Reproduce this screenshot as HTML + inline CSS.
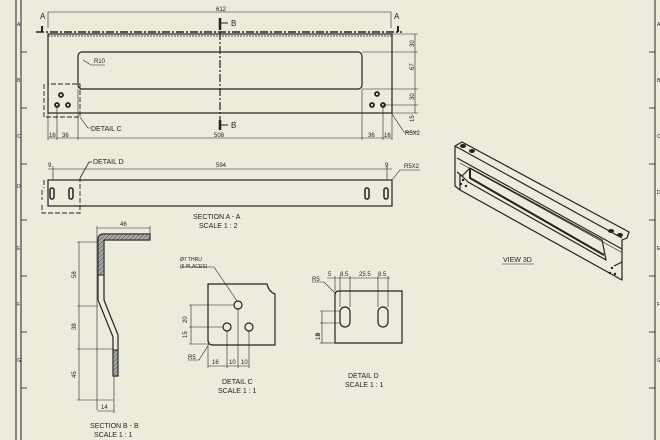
<!DOCTYPE html>
<html><head><style>
html,body{margin:0;padding:0;background:#ecebdc;}
svg{display:block;}
text{font-family:"Liberation Sans",sans-serif;fill:#222;}
</style></head><body>
<svg width="660" height="440" viewBox="0 0 660 440" xmlns="http://www.w3.org/2000/svg">
<defs>
<pattern id="h" width="3" height="3" patternUnits="userSpaceOnUse" patternTransform="rotate(45)"><rect width="3" height="3" fill="#aaa"/><line x1="0" y1="0" x2="0" y2="3" stroke="#444" stroke-width="1"/></pattern>
</defs>
<rect width="660" height="440" fill="#ecebdc"/>
<g stroke="#222" fill="none" stroke-width="1">
<line x1="16" y1="0" x2="16" y2="440"/>
<line x1="21" y1="0" x2="21" y2="440"/>
<line x1="655" y1="0" x2="655" y2="440"/>
<g stroke-width="0.8">
<line x1="21" y1="52" x2="27" y2="52"/><line x1="21" y1="108" x2="27" y2="108"/><line x1="21" y1="164" x2="27" y2="164"/>
<line x1="21" y1="220" x2="27" y2="220"/><line x1="21" y1="276" x2="27" y2="276"/><line x1="21" y1="332" x2="27" y2="332"/><line x1="21" y1="388" x2="27" y2="388"/>
<line x1="649" y1="52" x2="655" y2="52"/><line x1="649" y1="108" x2="655" y2="108"/><line x1="649" y1="164" x2="655" y2="164"/>
<line x1="649" y1="220" x2="655" y2="220"/><line x1="649" y1="276" x2="655" y2="276"/><line x1="649" y1="332" x2="655" y2="332"/><line x1="649" y1="388" x2="655" y2="388"/>
</g>
<line x1="36" y1="32" x2="402" y2="32" stroke-width="1.5" stroke-dasharray="8,2,2,2"/>
<rect x="48" y="34" width="344" height="79" stroke-width="1.2"/>
<line x1="48" y1="36" x2="392" y2="36" stroke-dasharray="2,1" stroke-width="0.8"/>
<rect x="78" y="52" width="284" height="37" rx="4" stroke-width="1.2"/>
<line x1="220" y1="18" x2="220" y2="130" stroke-width="1.2" stroke-dasharray="8,2,2,2"/>
<line x1="220" y1="18" x2="220" y2="30" stroke-width="2.5"/><line x1="220" y1="120" x2="220" y2="130" stroke-width="2.5"/>
<line x1="220" y1="23" x2="228" y2="23"/><line x1="220" y1="125" x2="228" y2="125"/>
<line x1="42" y1="32" x2="42" y2="26" stroke-width="2"/><line x1="398" y1="32" x2="398" y2="26" stroke-width="2"/>
<path d="M48 28V12H391V28" stroke-width="0.6"/>
<g stroke-width="1.8">
<circle cx="61" cy="95" r="2"/><circle cx="57" cy="105" r="2"/><circle cx="68" cy="105" r="2"/>
<circle cx="377" cy="94" r="2"/><circle cx="372" cy="105" r="2"/><circle cx="383" cy="105" r="2"/>
</g>
<path d="M44 84V117H80V84H48" stroke-dasharray="5,2" stroke-width="0.9"/>
<path d="M80 117L88 128H91" stroke-width="0.6"/>
<path d="M83 60L91 65H105" stroke-width="0.6"/>
<g stroke-width="0.6">
<line x1="48" y1="138" x2="392" y2="138"/>
<line x1="48" y1="113" x2="48" y2="140"/><line x1="57" y1="105" x2="57" y2="140"/><line x1="78" y1="89" x2="78" y2="140"/>
<line x1="362" y1="89" x2="362" y2="140"/><line x1="383" y1="105" x2="383" y2="140"/><line x1="392" y1="113" x2="392" y2="140"/>
<line x1="415" y1="34" x2="415" y2="113"/>
<line x1="392" y1="34" x2="418" y2="34"/><line x1="362" y1="52" x2="418" y2="52"/><line x1="362" y1="89" x2="418" y2="89"/><line x1="383" y1="105" x2="418" y2="105"/><line x1="392" y1="113" x2="418" y2="113"/>
<path d="M392 114L404 132H418"/>
</g>
<rect x="48" y="180" width="344" height="26" stroke-width="1.2"/>
<g stroke-width="1.5">
<rect x="50" y="188" width="4" height="11" rx="2"/><rect x="69" y="188" width="4" height="11" rx="2"/>
<rect x="365" y="188" width="4" height="11" rx="2"/><rect x="384" y="188" width="4" height="11" rx="2"/>
</g>
<path d="M44 180V188M42 190V200M42 205V213H80V178" stroke-dasharray="5,2" stroke-width="0.9"/>
<path d="M80 178L89 162H92" stroke-width="0.8"/>
<g stroke-width="0.6">
<line x1="48" y1="169" x2="392" y2="169"/>
<line x1="53" y1="166" x2="53" y2="180"/><line x1="387" y1="166" x2="387" y2="180"/>
<path d="M392 180L400 170H420"/>
</g>
<path d="M98 240Q98 234 104 234H150V240H104V300L118 335V376H113V337L98 300Z" stroke-width="1.2"/>
<path d="M98 240Q98 234 104 234H150V240H104V275H98Z" fill="url(#h)" stroke-width="1"/>
<rect x="113" y="350" width="5" height="26" fill="url(#h)"/>
<g stroke-width="0.6">
<line x1="97" y1="228" x2="150" y2="228"/><line x1="97" y1="226" x2="97" y2="410"/><line x1="150" y1="226" x2="150" y2="236"/>
<line x1="79" y1="242" x2="79" y2="400"/>
<line x1="77" y1="242" x2="98" y2="242"/><line x1="77" y1="306" x2="98" y2="306"/><line x1="77" y1="349" x2="113" y2="349"/><line x1="77" y1="400" x2="113" y2="400"/>
<line x1="97" y1="411" x2="114" y2="411"/><line x1="114" y1="376" x2="114" y2="413"/>
</g>
<path d="M208 284H267Q269 292 275 294V345H213Q208 345 208 340Z" stroke-width="1.2"/>
<circle cx="238" cy="305" r="4" stroke-width="1.2"/><circle cx="227" cy="327" r="4" stroke-width="1.2"/><circle cx="249" cy="327" r="4" stroke-width="1.2"/>
<g stroke-width="0.6">
<path d="M180 267H214L237 301"/>
<line x1="189" y1="305" x2="234" y2="305"/><line x1="189" y1="327" x2="223" y2="327"/><line x1="189" y1="344" x2="208" y2="344"/>
<line x1="191" y1="305" x2="191" y2="344"/>
<line x1="208" y1="345" x2="208" y2="368"/><line x1="227" y1="331" x2="227" y2="368"/><line x1="238" y1="309" x2="238" y2="368"/><line x1="249" y1="331" x2="249" y2="368"/>
<line x1="208" y1="366" x2="249" y2="366"/>
<path d="M209 344L199 360H188"/>
</g>
<path d="M339 291H402V343H335V295Q335 291 339 291Z" stroke-width="1.2"/>
<rect x="340" y="307" width="10" height="20" rx="5" stroke-width="1.2"/><rect x="378" y="307" width="10" height="20" rx="5" stroke-width="1.2"/>
<g stroke-width="0.6">
<line x1="327" y1="278" x2="390" y2="278"/>
<line x1="335" y1="276" x2="335" y2="291"/><line x1="340" y1="276" x2="340" y2="307"/><line x1="350" y1="276" x2="350" y2="307"/><line x1="378" y1="276" x2="378" y2="307"/><line x1="388" y1="276" x2="388" y2="307"/>
<path d="M312 282H324L336 294"/>
<line x1="322" y1="311" x2="322" y2="343"/>
<line x1="320" y1="311" x2="340" y2="311"/><line x1="320" y1="323" x2="340" y2="323"/><line x1="320" y1="343" x2="335" y2="343"/>
</g>
<g stroke-width="1.2" stroke-linejoin="round">
<path d="M455 146L462 142L629 232L627 238L622 240V280L460 190L455 186Z"/>
<path d="M455 146L622 238"/>
<path d="M457 158L622 249"/>
<path d="M460 163L621 252" stroke-width="0.7"/>
<path d="M457 172L462 176L470 168L602 240L606 260L468 182L462 176" />
<path d="M470 168L470 178L604 255" stroke-width="2"/>
<path d="M460 175L460 190"/>
<path d="M622 262L614 266"/>
</g>
<g fill="#222" stroke="none">
<ellipse cx="463" cy="146" rx="3" ry="2"/><ellipse cx="472" cy="151" rx="3" ry="2"/>
<ellipse cx="611" cy="231" rx="3" ry="2"/><ellipse cx="620" cy="235" rx="3" ry="2"/>
<circle cx="463" cy="180" r="1.2"/><circle cx="466" cy="186" r="1.2"/><circle cx="461" cy="184" r="1.2"/>
<circle cx="612" cy="268" r="1.2"/><circle cx="615" cy="274" r="1.2"/><circle cx="610" cy="273" r="1.2"/>
</g>
<line x1="502" y1="264" x2="534" y2="264" stroke-width="0.6"/>
</g>
<g font-size="6">
<text x="216" y="11">612</text>
<text x="40" y="19" font-size="8">A</text><text x="394" y="19" font-size="8">A</text>
<text x="231" y="26" font-size="8">B</text><text x="231" y="128" font-size="8">B</text>
<text x="94" y="63">R10</text>
<text x="91" y="131" font-size="7">DETAIL C</text>
<text x="49" y="137">16</text><text x="62" y="137">36</text><text x="214" y="137">508</text><text x="368" y="137">36</text><text x="384" y="137">16</text>
<text x="405" y="135">R5X2</text>
<g transform="rotate(-90)"><text x="-47" y="414">30</text><text x="-70" y="414">67</text><text x="-100" y="414">30</text><text x="-122" y="414">15</text></g>
<text x="93" y="164" font-size="7">DETAIL D</text>
<text x="48" y="167">9</text><text x="385" y="167">9</text><text x="216" y="167">594</text>
<text x="404" y="168">R5X2</text>
<text x="193" y="219" font-size="7">SECTION A - A</text><text x="199" y="228" font-size="7">SCALE 1 : 2</text>
<text x="120" y="226">46</text>
<g transform="rotate(-90)"><text x="-278" y="76">58</text><text x="-330" y="76">38</text><text x="-378" y="76">45</text><text x="-323" y="187">20</text><text x="-338" y="187">15</text><text x="-336" y="320">9</text><text x="-340" y="320">18</text></g>
<text x="101" y="409">14</text>
<text x="90" y="428" font-size="7">SECTION B - B</text><text x="94" y="437" font-size="7">SCALE  1 : 1</text>
<text x="180" y="261" font-size="5">Ø7 THRU</text><text x="180" y="268" font-size="5">(6 PLACES)</text>
<text x="212" y="364">16</text><text x="229" y="364">10</text><text x="241" y="364">10</text>
<text x="188" y="359">R5</text>
<text x="222" y="384" font-size="7">DETAIL C</text><text x="218" y="393" font-size="7">SCALE 1 : 1</text>
<text x="312" y="281">R5</text><text x="328" y="276">5</text><text x="340" y="276">8.5</text><text x="359" y="276">25.5</text><text x="378" y="276">8.5</text>
<text x="348" y="378" font-size="7">DETAIL D</text><text x="345" y="387" font-size="7">SCALE 1 : 1</text>
<text x="503" y="262" font-size="7">VIEW 3D</text>
<g font-size="5"><text x="17" y="26">A</text><text x="17" y="82">B</text><text x="17" y="138">C</text><text x="17" y="188">D</text><text x="17" y="250">E</text><text x="17" y="306">F</text><text x="17" y="362">G</text>
<text x="657" y="26">A</text><text x="657" y="82">B</text><text x="657" y="138">C</text><text x="657" y="194">D</text><text x="657" y="250">E</text><text x="657" y="306">F</text><text x="657" y="362">G</text></g>
</g>
</svg>
</body></html>
